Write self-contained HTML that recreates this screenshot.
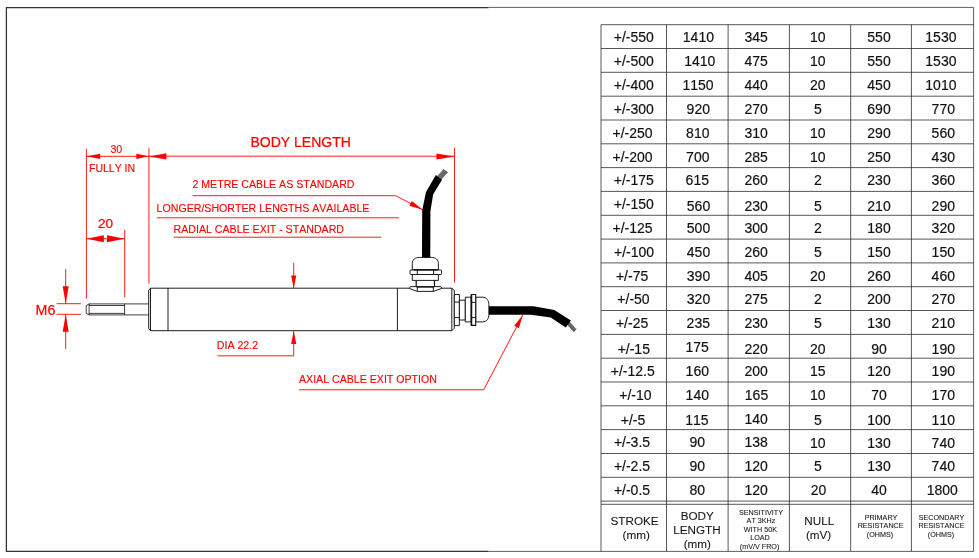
<!DOCTYPE html>
<html lang="en"><head><meta charset="utf-8"><title>LVDT dimensions</title>
<style>html,body{margin:0;padding:0;background:#fff;}body{width:979px;height:558px;overflow:hidden;}svg{display:block;will-change:transform;}text{font-family:"Liberation Sans",Arial,sans-serif;font-kerning:none;}</style>
</head><body>
<svg width="979" height="558" viewBox="0 0 979 558">
<rect width="979" height="558" fill="#fff"/>
<g fill="none" stroke="#333" stroke-width="1.25">
<path d="M488.5 551.4H6.4V7.6H488.5"/>
</g>
<g fill="none" stroke="#2a2a2a" stroke-width="0.75">
<path d="M488.5 7.4H973.6V551.4H488.5"/>
</g>
<g id="grid" fill="none" stroke="#262626" stroke-width="0.78">
<path d="M601.0 24.7H973.6"/>
<path d="M601.0 48.5H973.6"/>
<path d="M601.0 72.3H973.6"/>
<path d="M601.0 96.2H973.6"/>
<path d="M601.0 120.0H973.6"/>
<path d="M601.0 143.8H973.6"/>
<path d="M601.0 167.6H973.6"/>
<path d="M601.0 191.4H973.6"/>
<path d="M601.0 215.3H973.6"/>
<path d="M601.0 239.1H973.6"/>
<path d="M601.0 262.9H973.6"/>
<path d="M601.0 286.7H973.6"/>
<path d="M601.0 310.5H973.6"/>
<path d="M601.0 334.4H973.6"/>
<path d="M601.0 358.2H973.6"/>
<path d="M601.0 382.0H973.6"/>
<path d="M601.0 405.8H973.6"/>
<path d="M601.0 429.6H973.6"/>
<path d="M601.0 453.5H973.6"/>
<path d="M601.0 477.3H973.6"/>
<path d="M601.0 501.1H973.6"/>
<path d="M601.0 504.3H973.6"/>
<path d="M601.0 24.7V551.3"/>
<path d="M666.5 24.7V551.3"/>
<path d="M728.1 24.7V551.3"/>
<path d="M789.4 24.7V551.3"/>
<path d="M850.7 24.7V551.3"/>
<path d="M911.4 24.7V551.3"/>
</g>
<g id="cells" font-size="14" fill="#111" stroke="#111" stroke-width="0.18" stroke-linejoin="round" text-anchor="middle">
<text x="633.8" y="42.4">+/-550</text>
<text x="698.4" y="42.4">1410</text>
<text x="756.2" y="42.4">345</text>
<text x="817.8" y="42.4">10</text>
<text x="879.0" y="42.4">550</text>
<text x="940.9" y="42.4">1530</text>
<text x="633.8" y="66.2">+/-500</text>
<text x="699.8" y="66.2">1410</text>
<text x="756.2" y="66.2">475</text>
<text x="817.8" y="66.2">10</text>
<text x="879.0" y="66.2">550</text>
<text x="940.9" y="66.2">1530</text>
<text x="633.8" y="90.0">+/-400</text>
<text x="698.1" y="90.0">1150</text>
<text x="756.2" y="90.0">440</text>
<text x="817.8" y="90.0">20</text>
<text x="879.0" y="90.0">450</text>
<text x="940.9" y="90.0">1010</text>
<text x="633.8" y="113.9">+/-300</text>
<text x="698.3" y="113.9">920</text>
<text x="756.2" y="113.9">270</text>
<text x="817.8" y="113.9">5</text>
<text x="879.0" y="113.9">690</text>
<text x="943.3" y="113.9">770</text>
<text x="632.5" y="137.9">+/-250</text>
<text x="697.8" y="137.9">810</text>
<text x="756.2" y="137.9">310</text>
<text x="817.8" y="137.9">10</text>
<text x="879.0" y="137.9">290</text>
<text x="943.3" y="137.9">560</text>
<text x="632.5" y="161.5">+/-200</text>
<text x="697.8" y="161.5">700</text>
<text x="756.2" y="161.5">285</text>
<text x="817.8" y="161.5">10</text>
<text x="879.0" y="161.5">250</text>
<text x="943.3" y="161.5">430</text>
<text x="633.8" y="185.3">+/-175</text>
<text x="697.3" y="185.3">615</text>
<text x="756.2" y="185.3">260</text>
<text x="817.8" y="185.3">2</text>
<text x="879.0" y="185.3">230</text>
<text x="943.3" y="185.3">360</text>
<text x="633.8" y="208.7">+/-150</text>
<text x="698.5" y="210.7">560</text>
<text x="756.2" y="210.7">230</text>
<text x="817.8" y="210.7">5</text>
<text x="879.0" y="210.7">210</text>
<text x="943.3" y="210.7">290</text>
<text x="632.5" y="233.2">+/-125</text>
<text x="698.5" y="233.2">500</text>
<text x="756.2" y="233.2">300</text>
<text x="817.8" y="233.2">2</text>
<text x="879.0" y="233.2">180</text>
<text x="943.3" y="233.2">320</text>
<text x="634.0" y="257.0">+/-100</text>
<text x="698.5" y="257.0">450</text>
<text x="756.2" y="257.0">260</text>
<text x="817.8" y="257.0">5</text>
<text x="879.0" y="257.0">150</text>
<text x="943.3" y="257.0">150</text>
<text x="632.1" y="280.6">+/-75</text>
<text x="698.5" y="280.6">390</text>
<text x="756.2" y="280.6">405</text>
<text x="817.8" y="280.6">20</text>
<text x="879.0" y="280.6">260</text>
<text x="943.3" y="280.6">460</text>
<text x="633.5" y="304.4">+/-50</text>
<text x="698.5" y="304.4">320</text>
<text x="756.2" y="304.4">275</text>
<text x="817.8" y="304.4">2</text>
<text x="879.0" y="304.4">200</text>
<text x="943.3" y="304.4">270</text>
<text x="632.1" y="328.4">+/-25</text>
<text x="698.3" y="328.4">235</text>
<text x="756.2" y="328.4">230</text>
<text x="817.8" y="328.4">5</text>
<text x="879.0" y="328.4">130</text>
<text x="943.3" y="328.4">210</text>
<text x="633.8" y="353.6">+/-15</text>
<text x="697.1" y="351.6">175</text>
<text x="756.2" y="353.6">220</text>
<text x="817.8" y="353.6">20</text>
<text x="879.0" y="353.6">90</text>
<text x="943.3" y="353.6">190</text>
<text x="632.8" y="375.9">+/-12.5</text>
<text x="697.3" y="375.9">160</text>
<text x="756.2" y="375.9">200</text>
<text x="817.8" y="375.9">15</text>
<text x="879.0" y="375.9">120</text>
<text x="943.3" y="375.9">190</text>
<text x="635.4" y="400.1">+/-10</text>
<text x="697.3" y="400.1">140</text>
<text x="756.5" y="400.1">165</text>
<text x="817.8" y="400.1">10</text>
<text x="879.0" y="400.1">70</text>
<text x="943.3" y="400.1">170</text>
<text x="633.0" y="425.3">+/-5</text>
<text x="696.9" y="425.3">115</text>
<text x="756.2" y="423.7">140</text>
<text x="817.8" y="425.3">5</text>
<text x="879.0" y="425.3">100</text>
<text x="943.3" y="425.3">110</text>
<text x="632.0" y="446.9">+/-3.5</text>
<text x="697.3" y="446.9">90</text>
<text x="756.2" y="446.9">138</text>
<text x="817.8" y="448.3">10</text>
<text x="879.0" y="448.3">130</text>
<text x="943.3" y="448.3">740</text>
<text x="632.0" y="471.1">+/-2.5</text>
<text x="697.3" y="471.1">90</text>
<text x="756.2" y="471.1">120</text>
<text x="817.8" y="471.1">5</text>
<text x="879.0" y="471.1">130</text>
<text x="943.3" y="471.1">740</text>
<text x="632.0" y="495.0">+/-0.5</text>
<text x="697.3" y="495.0">80</text>
<text x="756.2" y="495.0">120</text>
<text x="818.6" y="495.0">20</text>
<text x="879.0" y="495.0">40</text>
<text x="942.3" y="495.0">1800</text>
</g>
<g id="head" fill="#151515" stroke="#151515" stroke-width="0.08" stroke-linejoin="round" text-anchor="middle">
<g font-size="11.7">
<text x="634.6" y="524.5">STROKE</text><text x="636.2" y="538.9">(mm)</text>
<text x="697.3" y="519.5">BODY</text><text x="696.9" y="533.8">LENGTH</text><text x="697.3" y="548.3">(mm)</text>
<text x="819.2" y="524.5">NULL</text><text x="818.6" y="538.9">(mV)</text>
</g><g font-size="7.2">
<text x="761" y="515">SENSITIVITY</text><text x="761" y="523.3">AT 3KHz</text><text x="760.4" y="531.8">WITH 50K</text><text x="760" y="540.4">LOAD</text><text x="759.6" y="548.9">(mV/V FRO)</text>
<text x="881" y="519.6">PRIMARY</text><text x="880.6" y="528.3">RESISTANCE</text><text x="880" y="536.7">(OHMS)</text>
<text x="941.5" y="519.6">SECONDARY</text><text x="941.5" y="528.3">RESISTANCE</text><text x="941" y="536.7">(OHMS)</text>
</g></g>
<g id="body" fill="none" stroke="#111" stroke-width="0.95" stroke-linejoin="round">
<path d="M150.5 288.2H451.8L454.3 290.6V328.2L451.8 330.7H150.5L148.7 328.5V290.3Z"/>
<path d="M150.5 288.2V330.7M168 288.2V330.7M397.4 288.2V330.7M451.8 288.2V330.7"/>
<path d="M148.7 303.9H89.1L86.2 305.6V313.3L89.1 314.9H148.7" stroke-width="0.8"/>
<path d="M89.1 303.9V314.9M124.6 303.9V314.9M89.1 305.5H124.6M89.1 313.4H124.6" stroke-width="0.8"/>
<path d="M412.3 269.7V263.6C412.3 259.6 415 257.4 419.6 257.4H431.1C435.7 257.4 438.4 259.6 438.4 263.6V269.7Z" fill="#fff"/>
<rect x="410" y="270" width="31.6" height="4.5" rx="0.8" fill="#fff"/>
<path d="M414 269.9H437.6M415.8 274.6H435.1" stroke-width="1.3"/>
<path d="M417.3 270V274.5M433.6 270V274.5"/>
<rect x="412.3" y="274.5" width="26.1" height="5.9" fill="#fff"/>
<path d="M416.2 280.4V286.6M434.5 280.4V286.6" stroke-width="1.2"/>
<path d="M409.2 288.4L410.5 286.6H440.7L441.8 288.4L433.4 291.4H417.2Z" fill="#fff"/>
<path d="M417.3 286.8V291.4M433.3 286.8V291.4"/>
<path d="M416.6 287H434" stroke-width="1.3"/>
<rect x="454.3" y="294.5" width="5.1" height="31.1" fill="#fff"/>
<path d="M454.3 302.1H459.4M454.3 317.6H459.4"/>
<rect x="459.4" y="300.2" width="5.9" height="19.8" fill="#fff"/>
<rect x="465.3" y="297.2" width="5.9" height="24.7" fill="#fff"/>
<path d="M475.7 297.2H482.6C486.6 297.2 488.9 300.2 488.9 304.8V314.3C488.9 318.9 486.6 321.9 482.6 321.9H475.7Z" fill="#fff"/>
<rect x="471.3" y="294.5" width="4.4" height="30.9" fill="#fff" stroke-width="1.1"/>
<path d="M471.3 302.4H475.7M471.3 317.6H475.7"/>
<path d="M471.5 294.5V325.4" stroke-width="1.5"/>
</g>
<g id="cables" stroke="none">
<path d="M436.9 176.3L443.2 169.4L447.7 172.6L441.3 179.8Z" fill="#7a7a7a"/>
<path d="M438.7 176.8L444.5 170.3M440 177.8L445.8 171.3M441.1 178.6L446.9 172.1" stroke="#3a3a3a" stroke-width="0.5" fill="none"/>
<path d="M443.2 169.4L447.7 172.6" stroke="#444" stroke-width="0.9" fill="none"/>
<path d="M422 257.5L422.2 210.5L425.9 192.3L435.8 175L442 179.8L433.1 194.4L430.4 211.6L430.3 257.5Z" fill="#000"/>
<path d="M569.4 321.3L576.3 329L573.4 331.8L566.5 324.1Z" fill="#7a7a7a"/>
<path d="M568.8 322.3L575.5 329.8M567.9 323.1L574.6 330.6M567.2 323.8L573.9 331.3" stroke="#3a3a3a" stroke-width="0.5" fill="none"/>
<path d="M576.3 329L573.4 331.8" stroke="#444" stroke-width="0.9" fill="none"/>
<path d="M488.9 306.2H533.6L554.3 310L570.9 320.4L565.8 327.4L550.7 317.5L530.9 314.7H488.9Z" fill="#000"/>
</g>
<g id="red" fill="none" stroke="#ff0000" stroke-width="0.9">
<path d="M86.4 148.8V298.7M148.95 147.9V283.7M124.7 229.7V297.2M454.5 148V282.5"/>
<path d="M86.4 156.3H148.6M148.6 156.2H454.4M86.4 238.7H124.7"/>
<path d="M65.7 269.1V303.7M65.7 314.3V348.9M56.7 303.7H80.9M56.7 314.3H80.9"/>
<path d="M293.7 262.9V288.3M293.7 331.1V355.8H217.3"/>
<path d="M192.6 195.7H395.7L422.8 209.8M156.9 217.8H398.9M173.7 237.2H381.3"/>
<path d="M299.1 389.8H483.7L522.8 315"/>
</g>
<g id="arrows" fill="#ff0000" stroke="none">
<circle cx="454.5" cy="290.5" r="0.55"/><circle cx="89.1" cy="304.6" r="0.45"/><circle cx="89.1" cy="314.3" r="0.45"/><circle cx="124.6" cy="304.5" r="0.45"/><circle cx="148.8" cy="290.2" r="0.45"/>
<path d="M86.4 156.3L100.2 153.7L100.2 158.9Z"/>
<path d="M148.9 156.3L136.3 158.9L136.3 153.7Z"/>
<path d="M148.9 156.4L166.4 153.3L166.4 159.5Z"/>
<path d="M454.4 156.5L436.5 159.6L436.5 153.4Z"/>
<path d="M86.4 238.7L103.8 235.2L103.8 242.2Z"/>
<path d="M124.7 238.7L107.0 242.2L107.0 235.2Z"/>
<path d="M65.7 303.7L62.7 286.2L68.7 286.2Z"/>
<path d="M65.7 314.3L68.7 331.8L62.7 331.8Z"/>
<path d="M293.7 288.3L291.1 275.4L296.3 275.4Z"/>
<path d="M293.7 331.1L296.3 344.0L291.1 344.0Z"/>
<path d="M422.8 209.8L409.4 205.7L411.8 201.1Z"/>
<path d="M522.8 315.0L518.9 328.2L514.2 325.7Z"/>
</g>
<g id="redtext" fill="#ff0000" stroke="#ff0000" stroke-width="0.12" stroke-linejoin="round">
<text x="250.4" y="146.5" font-size="14.03" stroke-width="0.22">BODY LENGTH</text>
<text x="116.3" y="153" font-size="10.62" text-anchor="middle">30</text>
<text x="89" y="171.7" font-size="10.5">FULLY IN</text>
<text x="105.5" y="228.3" font-size="13.6" stroke-width="0.22" text-anchor="middle">20</text>
<text x="35.6" y="314.6" font-size="14.2" stroke-width="0.22">M6</text>
<text x="192.4" y="188.4" font-size="10.62">2 METRE CABLE AS STANDARD</text>
<text x="156.6" y="212.1" font-size="10.62">LONGER/SHORTER LENGTHS AVAILABLE</text>
<text x="173.6" y="232.8" font-size="10.62">RADIAL CABLE EXIT - STANDARD</text>
<text x="216.8" y="348.5" font-size="10.62">DIA 22.2</text>
<text x="299" y="382.6" font-size="10.62">AXIAL CABLE EXIT OPTION</text>
</g>
</svg>
</body></html>
